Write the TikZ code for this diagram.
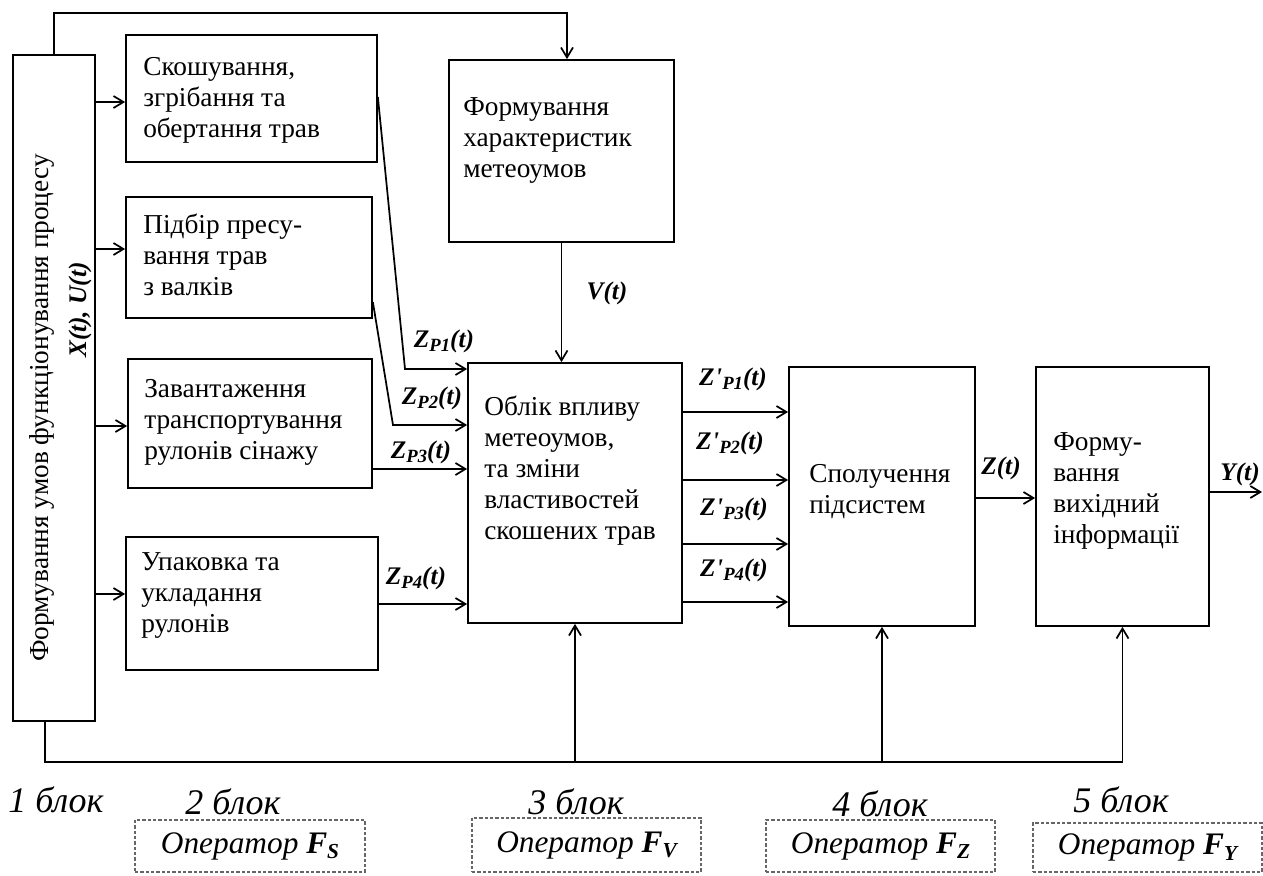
\documentclass[tikz,border=0pt]{standalone}
\usepackage{fontspec}
\setmainfont{Liberation Serif}
\usetikzlibrary{arrows.meta,fit}
\newcommand\zsub[1]{\raisebox{-0.4ex}{\fontsize{14}{14}\selectfont\bfseries\itshape #1}}
\newcommand\fsub[1]{\raisebox{-0.4ex}{\fontsize{16}{16}\selectfont\bfseries\itshape #1}}
\tikzset{
 box/.style={draw, line width=1.3pt, inner sep=0pt},
 txt/.style={anchor=north west, align=left, inner sep=0pt, font=\fontsize{20.5}{23.4}\selectfont},
 arr/.style={line width=1.3pt, -{Straight Barb[length=7.5pt,width=9pt,line width=1.3pt]}},
 ln/.style={line width=1.3pt},
 lab/.style={inner sep=0pt, font=\fontsize{19}{19}\selectfont\bfseries\itshape},
 blk/.style={inner sep=0pt, font=\fontsize{27}{27}\selectfont\itshape},
 opbox/.style={draw=black!60, dash pattern=on 2.5pt off 1.5pt, line width=0.8pt, inner sep=0pt},
 optxt/.style={inner sep=0pt, font=\fontsize{23.5}{23.5}\selectfont\itshape},
}
\begin{document}
\begin{tikzpicture}[x=0.75pt,y=-0.75pt]
\useasboundingbox (0,0) rectangle (1263,875);
% boxes
\node[box, fit={(13,55) (95,721)}] (b1) {};
\node[box, fit={(126,35) (377,162)}] (b2a) {};
\node[box, fit={(126,197) (372,318)}] (b2b) {};
\node[box, fit={(128,359) (372,488)}] (b2c) {};
\node[box, fit={(126,537) (378,670)}] (b2d) {};
\node[box, fit={(449,60) (674,242)}] (bm) {};
\node[box, fit={(468,363) (682,623)}] (b3) {};
\node[box, fit={(789,367) (975,626)}] (b4) {};
\node[box, fit={(1036,367) (1209,626)}] (b5) {};
% texts (anchor = top of a strut on the first line)
\node[inner sep=0pt, rotate=90, font=\fontsize{20.5}{20.5}\selectfont] (t1) at (42,408) {Формування умов функціонування процесу};
\node[inner sep=0pt, rotate=90, font=\fontsize{19}{19}\selectfont\bfseries\itshape] (t1b) at (80,310) {X(t), U(t)};
\node[txt] (t2a) at (143,53) {\strut Скошування,\\згрібання та\\обертання трав};
\node[txt] (t2b) at (143,211) {\strut Підбір пресу-\\вання трав\\з валків};
\node[txt] (t2c) at (144,375) {\strut Завантаження\\транспортування\\рулонів сінажу};
\node[txt] (t2d) at (141,548) {\strut Упаковка та\\укладання\\рулонів};
\node[txt] (tm) at (463,93) {\strut Формування\\характеристик\\метеоумов};
\node[txt] (t3) at (484,393) {\strut Облік впливу\\метеоумов,\\та зміни\\властивостей\\скошених трав};
\node[txt] (t4) at (809,460) {\strut Сполучення\\підсистем};
\node[txt] (t5) at (1053,428) {\strut Форму-\\вання\\вихідний\\інформації};
% helper coordinates
\coordinate (r1) at (0,102);
\coordinate (r2) at (0,249);
\coordinate (r3) at (0,426);
\coordinate (r4) at (0,594);
\coordinate (p1s) at (0,97);
\coordinate (k1) at (405,369);
\coordinate (p2s) at (0,302);
\coordinate (k2) at (393,425);
\coordinate (p3) at (0,469);
\coordinate (p4) at (0,604);
\coordinate (o1) at (0,412);
\coordinate (o2) at (0,480);
\coordinate (o3) at (0,544);
\coordinate (o4) at (0,602);
\coordinate (zr) at (0,498);
\coordinate (yend) at (1262,492);
\coordinate (tc) at (567,13);
\coordinate (bc) at (45,762);
% connectors from block 1
\draw[arr] (b1.east |- r1) -- (b2a.west |- r1);
\draw[arr] (b1.east |- r2) -- (b2b.west |- r2);
\draw[arr] (b1.east |- r3) -- (b2c.west |- r3);
\draw[arr] (b1.east |- r4) -- (b2d.west |- r4);
\draw[arr] (b1.north) |- (tc) -- (bm.north -| tc);
% block 2 -> block 3
\draw[arr] (b2a.east |- p1s) -- (k1) -- (b3.west |- k1);
\draw[arr] (b2b.east |- p2s) -- (k2) -- (b3.west |- k2);
\draw[arr] (b2c.east |- p3) -- (b3.west |- p3);
\draw[arr] (b2d.east |- p4) -- (b3.west |- p4);
\draw[arr] (bm.south) -- (b3.north -| bm.south);
% block 3 -> block 4
\draw[arr] (b3.east |- o1) -- (b4.west |- o1);
\draw[arr] (b3.east |- o2) -- (b4.west |- o2);
\draw[arr] (b3.east |- o3) -- (b4.west |- o3);
\draw[arr] (b3.east |- o4) -- (b4.west |- o4);
\draw[arr] (b4.east |- zr) -- (b5.west |- zr);
\draw[arr] (b5.east |- yend) -- (yend);
% bottom feedback
\draw[ln] (b1.south -| bc) -- (bc) -- (b5.south |- bc);
\draw[arr] (b3.south |- bc) -- (b3.south);
\draw[arr] (b4.south |- bc) -- (b4.south);
\draw[arr] (b5.south |- bc) -- (b5.south);
% labels
\node[lab] (lv) at (607,293) {V(t)};
\node[lab] (lz1) at (444,341) {Z\zsub{P1}(t)};
\node[lab] (lz2) at (432,398) {Z\zsub{P2}(t)};
\node[lab] (lz3) at (421,452) {Z\zsub{P3}(t)};
\node[lab] (lz4) at (416,578) {Z\zsub{P4}(t)};
\node[lab] (lo1) at (733,379) {Z\kern0.5pt\textquotesingle\zsub{P1}(t)};
\node[lab] (lo2) at (730,443) {Z\kern0.5pt\textquotesingle\zsub{P2}(t)};
\node[lab] (lo3) at (734,509) {Z\kern0.5pt\textquotesingle\zsub{P3}(t)};
\node[lab] (lo4) at (734,570) {Z\kern0.5pt\textquotesingle\zsub{P4}(t)};
\node[lab] (lzt) at (1001,468) {Z(t)};
\node[lab] (lyt) at (1240,474) {Y(t)};
% bottom block labels
\node[blk] (k1l) at (56,800) {1 блок};
\node[blk] (k2l) at (233,802) {2 блок};
\node[blk] (k3l) at (576,802) {3 блок};
\node[blk] (k4l) at (880,804) {4 блок};
\node[blk] (k5l) at (1121,800) {5 блок};
\node[opbox, fit={(135,820) (365,872)}] (f1) {};
\node[opbox, fit={(472,818) (701,872)}] (f2) {};
\node[opbox, fit={(766,820) (995,872)}] (f3) {};
\node[opbox, fit={(1033,823) (1262,872)}] (f4) {};
\node[optxt] (o1t) at (f1.center) {Оператор \textbf{F}\fsub{S}};
\node[optxt] (o2t) at (f2.center) {Оператор \textbf{F}\fsub{V}};
\node[optxt] (o3t) at (f3.center) {Оператор \textbf{F}\fsub{Z}};
\node[optxt] (o4t) at (f4.center) {Оператор \textbf{F}\fsub{Y}};
\end{tikzpicture}
\end{document}
